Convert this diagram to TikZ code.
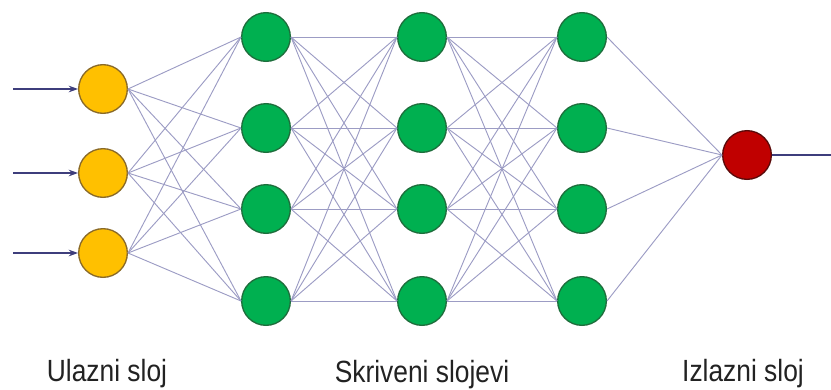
\documentclass[tikz,border=0pt]{standalone}
\usepackage{fontspec}
\newfontfamily\labelfont[FakeStretch=0.86]{Liberation Sans}
\usetikzlibrary{arrows.meta}
\definecolor{inyellow}{HTML}{FFC000}
\definecolor{inborder}{HTML}{8A6A28}
\definecolor{hidgreen}{HTML}{00B050}
\definecolor{hidborder}{HTML}{1E6E3C}
\definecolor{outred}{HTML}{C00000}
\definecolor{outborder}{HTML}{5A0A0A}
\definecolor{linkgrey}{HTML}{9C9CC4}
\definecolor{arrowblue}{HTML}{3E3E7C}
\definecolor{labelgrey}{HTML}{222222}
\tikzset{
  neuron/.style={circle,line width=1pt,minimum size=36.5pt,inner sep=0pt},
  inp/.style={neuron,fill=inyellow,draw=inborder},
  hid/.style={neuron,fill=hidgreen,draw=hidborder},
  outp/.style={neuron,fill=outred,draw=outborder},
  link/.style={draw=linkgrey,line width=0.7pt},
  layerlabel/.style={font=\labelfont\fontsize{23}{26}\selectfont,text=labelgrey,anchor=base,inner sep=0pt}
}
\begin{document}
\begin{tikzpicture}[x=0.75pt,y=-0.75pt]
\useasboundingbox (0,0) rectangle (831,389);
\foreach \k/\y in {1/89,2/173,3/253}
  \node[inp] (i\k) at (103,\y) {};
\foreach \l/\x in {1/266,2/422,3/582}
  \foreach \k/\y in {1/37,2/128,3/209,4/301}
    \node[hid] (h\l\k) at (\x,\y) {};
\node[outp] (o) at (747,155) {};
% links between layers
\foreach \a in {1,2,3}
  \foreach \b in {1,...,4}
    \draw[link] (i\a.east) -- (h1\b.west);
\foreach \a in {1,...,4}
  \foreach \b in {1,...,4}{
    \draw[link] (h1\a.east) -- (h2\b.west);
    \draw[link] (h2\a.east) -- (h3\b.west);
  }
\foreach \a in {1,...,4}
  \draw[link] (h3\a.east) -- (o.west);
% inputs and output
\foreach \k/\y in {1/89,2/173,3/253}{
  \coordinate (x\k) at (13,\y);
  \draw[-{Stealth[length=7pt,width=5pt]},draw=arrowblue,fill=arrowblue,line width=0.9pt] (x\k) -- (i\k.west);
}
\coordinate (yout) at (831,155);
\draw[draw=arrowblue,line width=1.2pt] (o.east) -- (yout);
% layer names
\node[layerlabel] (lin) at (107,381) {Ulazni sloj};
\node[layerlabel] (lhid) at (422,382) {Skriveni slojevi};
\node[layerlabel] (lout) at (743,381) {Izlazni sloj};
\end{tikzpicture}
\end{document}
